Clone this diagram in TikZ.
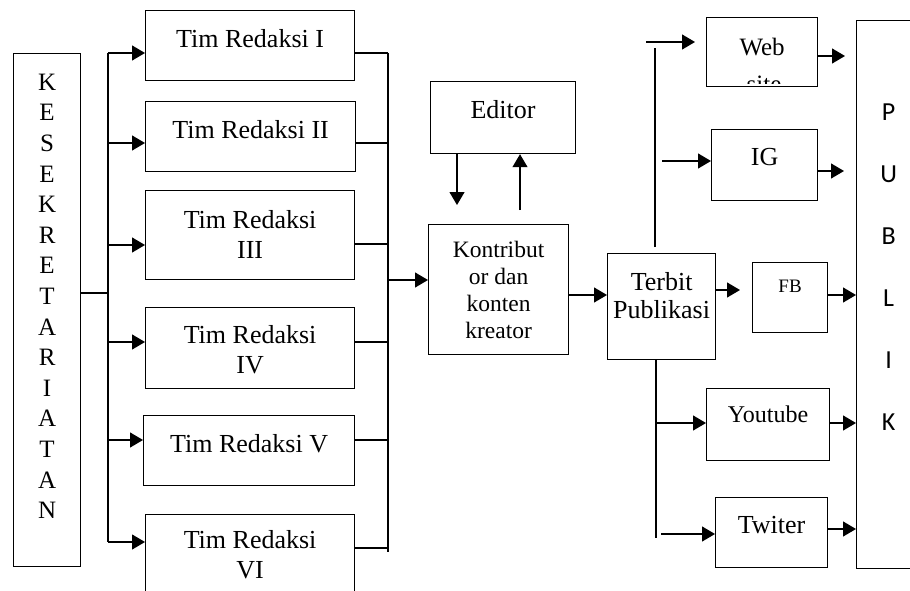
\documentclass[tikz,border=0pt]{standalone}
\usepackage{fontspec}
\setmainfont{Liberation Serif}
\newfontfamily\calib{Carlito}
\usetikzlibrary{arrows.meta}

\begin{document}
\begin{tikzpicture}[x=1pt,y=-1pt,line width=1.2pt,
    box/.style={draw,inner sep=0pt,anchor=north west,align=center,font=\fontsize{26}{30.5}\selectfont},
    tb/.style n args={3}{minimum width=#1pt,text height=#2pt,text depth=#3pt},
    arr/.style={-{Triangle[length=13pt,width=15pt]}}]
    \useasboundingbox (0,0) rectangle (910,591);
    % left column
    \node[box,tb={67}{465}{48},font=\fontsize{25}{30.6}\selectfont] (kes) at (13,53)
        {K\\E\\S\\E\\K\\R\\E\\T\\A\\R\\I\\A\\T\\A\\N};
    \node[box,tb={209}{37}{33}] (t1) at (145,10) {Tim Redaksi I};
    \node[box,tb={210}{37}{33}] (t2) at (145,101) {Tim Redaksi II};
    \node[box,tb={209}{68}{21}] (t3) at (145,190) {Tim Redaksi\\III};
    \node[box,tb={209}{66}{15}] (t4) at (145,307) {Tim Redaksi\\IV};
    \node[box,tb={211}{37}{33}] (t5) at (143,415) {Tim Redaksi V};
    \node[box,tb={209}{64}{28}] (t6) at (145,514) {Tim Redaksi\\VI};
    % middle
    \node[box,tb={145}{37}{35}] (ed) at (430,81) {Editor};
    \node[box,tb={140}{114}{16},font=\fontsize{23.5}{27}\selectfont] (kon) at (428,224)
        {Kontribut\\or dan\\konten\\kreator};
    \node[box,tb={108}{65}{41},font=\fontsize{26}{28}\selectfont] (ter) at (607,253) {Terbit\\Publikasi};
    % media
    \node[box,tb={111}{38}{31},font=\fontsize{25}{30}\selectfont] (web) at (706,17) {Web};
    \begin{scope}
        \clip (706,70) rectangle (817,84);
        \node[font=\fontsize{25}{30}\selectfont,anchor=base] (site) at (764,93) {site};
    \end{scope}
    \node[box,tb={106}{36}{35}] (ig) at (711,129) {IG};
    \node[box,tb={75}{30}{40},font=\fontsize{19}{22}\selectfont] (fb) at (752,262) {FB};
    \node[box,tb={123}{34}{38},font=\fontsize{24}{28}\selectfont] (yt) at (706,388) {Youtube};
    \node[box,tb={112}{36}{34}] (tw) at (715,497) {Twiter};
    \node[box,tb={64}{410}{138},font=\calib\fontsize{26}{62}\selectfont] (pub) at (856,20)
        {P\\U\\B\\L\\I\\K};

    % buses
    \coordinate (lb) at (108,293);
    \draw (kes.east |- lb) -- (lb);
    \foreach \n/\y in {1/53,2/143,3/245,4/342,5/440,6/542}{
        \coordinate (b\n) at (108,\y);
        \draw[arr] (b\n) -- (b\n -| t\n.west);
    }
    \draw (b1) -- (b6);
    \foreach \n/\y in {1/53,2/143,3/244,4/342,5/440,6/548}{
        \coordinate (r\n) at (388,\y);
        \draw (t\n.east |- r\n) -- (r\n);
    }
    \draw (r1) -- ([yshift=-4pt]r6);
    \coordinate (rk) at (388,280);
    \draw[arr] (rk) -- (rk -| kon.west);

    % editor loop
    \coordinate (ed1) at (457,205);
    \coordinate (ed2) at (520,210);
    \draw[arr] (ed1 |- ed.south) -- (ed1);
    \draw[arr] (ed2) -- (ed2 |- ed.south);
    \coordinate (kt) at (588,295);
    \draw[arr] (kt -| kon.east) -- (kt -| ter.west);

    % terbit to media
    \coordinate (s1) at (655,247);
    \coordinate (s2) at (655,48);
    \draw (s1) -- (s2);
    \coordinate (w0) at (646,42);
    \coordinate (w1) at (695,42);
    \draw[arr] (w0) -- (w1);
    \coordinate (i0) at (662,161);
    \draw[arr] (i0) -- (i0 -| ig.west);
    \coordinate (f1) at (740,290);
    \draw[arr] (f1 -| ter.east) -- (f1);
    \coordinate (s3) at (656,538);
    \draw (s3 |- ter.south) -- (s3);
    \coordinate (y0) at (656,423);
    \draw[arr] (y0) -- (y0 -| yt.west);
    \coordinate (x0) at (661,534);
    \draw[arr] (x0) -- (x0 -| tw.west);

    % media to publik
    \foreach \n/\y/\g in {web/56/11,ig/171/12,fb/295/0,yt/423/0,tw/529/0}{
        \coordinate (p\n) at (856,\y);
        \draw[arr,shorten >=\g pt] (\n.east |- p\n) -- (p\n);
    }
\end{tikzpicture}
\end{document}
